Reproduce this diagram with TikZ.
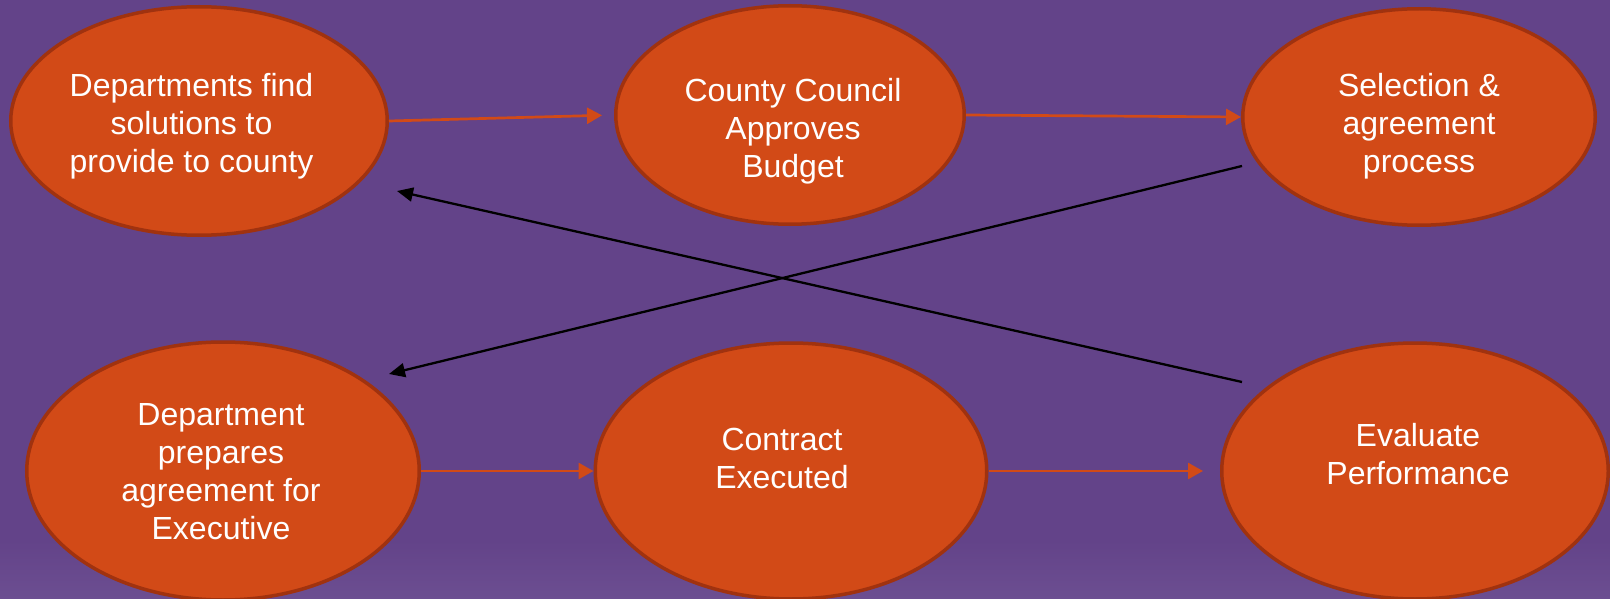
\documentclass[tikz,border=0pt]{standalone}
\usepackage{fontspec}
\setmainfont{Liberation Sans}
\usetikzlibrary{arrows.meta,shapes.geometric}
\definecolor{bgpurple}{RGB}{99,67,137}
\definecolor{bglight}{RGB}{108,78,145}
\definecolor{stagefill}{RGB}{210,74,23}
\definecolor{stageedge}{RGB}{160,50,15}
\begin{document}
\begin{tikzpicture}[x=1pt,y=-1pt,
  stage/.style={ellipse, draw=stageedge, fill=stagefill, line width=3.5pt, inner sep=0pt},
  caption/.style={text=white, align=center, inner sep=0pt, font=\fontsize{32}{38}\selectfont},
  flow/.style={draw=stagefill, line width=2.7pt, -{Triangle[length=15pt,width=16pt]}},
  back/.style={draw=black, line width=2.3pt, -{Triangle[length=16pt,width=14pt]}}]

  % background
  \useasboundingbox (0,0) rectangle (1610,599);
  \fill[bgpurple] (0,0) rectangle (1610,599);
  \shade[top color=bgpurple, bottom color=bglight] (0,540) rectangle (1610,599);

  % process stages
  \node[stage, minimum width=376.5pt, minimum height=228.5pt] (e1) at (199,121) {};
  \node[stage, minimum width=348.5pt, minimum height=218.5pt] (e2) at (790,115) {};
  \node[stage, minimum width=352.5pt, minimum height=216.5pt] (e3) at (1419,117) {};
  \node[stage, minimum width=392.5pt, minimum height=258pt] (e4) at (223,471) {};
  \node[stage, minimum width=391.5pt, minimum height=256pt] (e5) at (791,471) {};
  \node[stage, minimum width=386.5pt, minimum height=256pt] (e6) at (1415,471) {};

  % stage captions
  \node[caption] (t1) at (191.5,126) {Departments find\\solutions to\\provide to county};
  \node[caption] (t2) at (793,131) {County Council\\Approves\\Budget};
  \node[caption] (t3) at (1419,126) {Selection \&\\agreement\\process};
  \node[caption] (t4) at (221,472) {Department\\prepares\\agreement for\\Executive};
  \node[caption] (t5) at (782,458) {Contract\\Executed};
  \node[caption] (t6) at (1418,454) {Evaluate\\Performance};

  % forward flow
  \draw[flow, shorten >=12pt] (e1.east) -- (e2.west);
  \draw[flow] (e2.east) -- (e3.west);
  \draw[flow] (e4.east) -- (e5.west);
  \draw[flow, shorten >=17pt] (e5.east) -- (e6.west);

  % crossing return links
  \coordinate (selOut) at (1242,166);
  \coordinate (prepIn) at (389,374);
  \coordinate (evalOut) at (1242,382);
  \coordinate (findIn) at (397,191);
  \draw[back] (selOut) -- (prepIn);
  \draw[back] (evalOut) -- (findIn);
\end{tikzpicture}
\end{document}
